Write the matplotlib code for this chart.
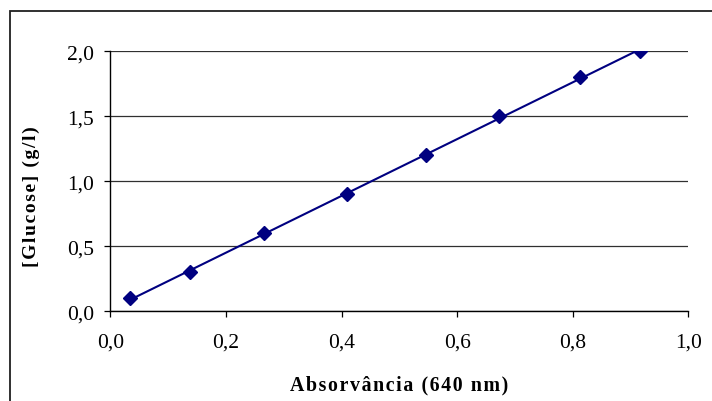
import numpy as np
import matplotlib
matplotlib.use("Agg")
import matplotlib.pyplot as plt
from matplotlib.patches import Rectangle
from matplotlib.ticker import FuncFormatter

absorbance = [0.034, 0.138, 0.266, 0.410, 0.546, 0.673, 0.812, 0.916]
glucose = [0.1, 0.3, 0.6, 0.9, 1.2, 1.5, 1.8, 2.0]
x_ticks = [0.0, 0.2, 0.4, 0.6, 0.8, 1.0]
y_ticks = [0.0, 0.5, 1.0, 1.5, 2.0]
x_label = "Absorvância (640 nm)"
y_label = "[Glucose] (g/l)"

plt.rcParams['font.family'] = ['Liberation Serif', 'DejaVu Serif']

W, H = 712, 402
fig = plt.figure(figsize=(W / 100, H / 100), dpi=100)
fig.patch.set_facecolor('white')

# outer chart frame (right/bottom edges outside the picture)
fig.patches.append(Rectangle((9.5 / W, -0.05), 1.2, 1 - 12 / H + 0.05,
                             transform=fig.transFigure, fill=False,
                             edgecolor='#202020', linewidth=1.3))

L, R, T, B = 110.3, 688.3, 52.3, 312.3
ax = fig.add_axes([L / W, 1 - B / H, (R - L) / W, (B - T) / H])

navy = '#000080'
xa = np.array(absorbance)
ya = np.array(glucose)
coef = np.polyfit(xa, ya, 1)
xf = np.array([xa.min(), xa.max()])
ax.plot(xf, np.polyval(coef, xf), color=navy, linewidth=1.5, zorder=3)
ax.plot(xa, ya, linestyle='none', marker='D', markersize=6.8,
        color=navy, zorder=4)

ax.set_xlim(0, 1.0)
ax.set_ylim(0, 2.0)
ax.set_xticks(x_ticks)
ax.set_yticks(y_ticks)
fmt = FuncFormatter(lambda v, p: f"{v:.1f}".replace('.', ','))
ax.xaxis.set_major_formatter(fmt)
ax.yaxis.set_major_formatter(fmt)

for s in ['top', 'right']:
    ax.spines[s].set_visible(False)
for s in ['left', 'bottom']:
    ax.spines[s].set_linewidth(1.0)
    ax.spines[s].set_color('black')

ax.yaxis.grid(True, color='#303030', linewidth=0.9)
ax.set_axisbelow(True)
ax.tick_params(axis='both', direction='out', length=4.5, width=0.9,
               labelsize=15.5, colors='black')
ax.tick_params(axis='x', pad=11)
ax.tick_params(axis='y', pad=7)

def tracked(s):
    return '\u200a'.join(s)

fig.text(399 / W, 1 - 385 / H, tracked(x_label), ha='center', va='center',
         fontsize=14.3, fontweight='bold')
fig.text(31 / W, 1 - 197 / H, tracked(y_label), ha='center', va='center',
         rotation=90, fontsize=14, fontweight='bold')

fig.savefig('out.png', dpi=100)
